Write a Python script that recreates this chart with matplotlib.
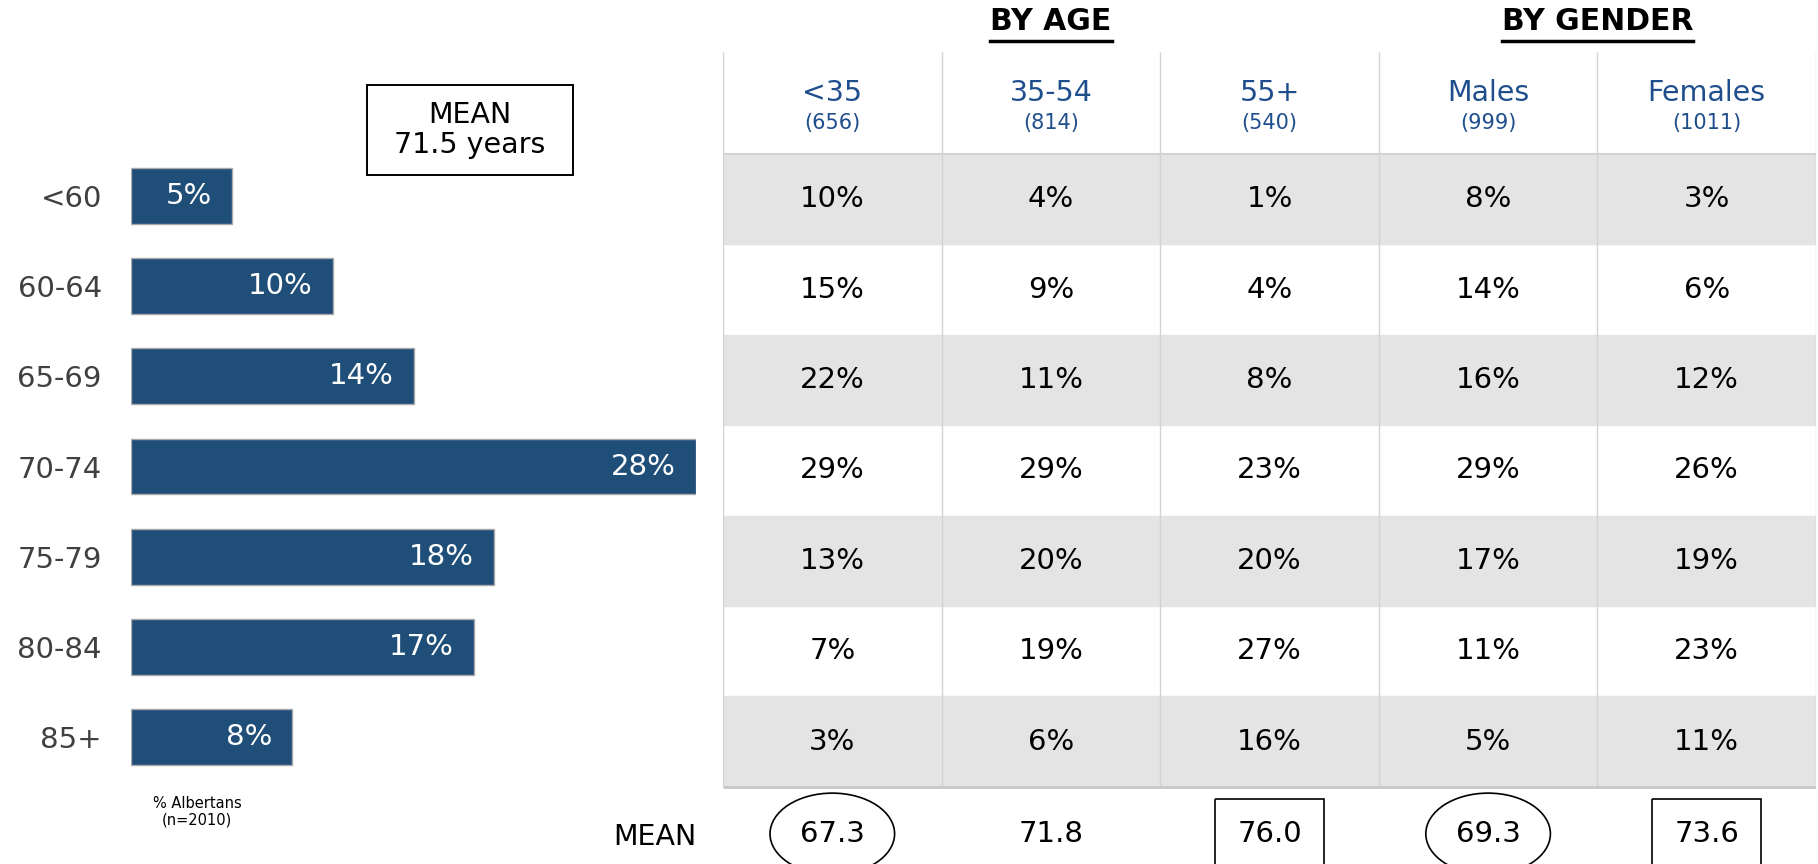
import matplotlib
matplotlib.use('Agg')
import matplotlib.pyplot as plt
from matplotlib.patches import Ellipse, Rectangle

# ---- data ----
age_groups = ['<60', '60-64', '65-69', '70-74', '75-79', '80-84', '85+']
overall_pct = [5, 10, 14, 28, 18, 17, 8]

columns = ['<35', '35-54', '55+', 'Males', 'Females']
column_n = ['(656)', '(814)', '(540)', '(999)', '(1011)']
table_pct = [
    [10, 4, 1, 8, 3],
    [15, 9, 4, 14, 6],
    [22, 11, 8, 16, 12],
    [29, 29, 23, 29, 26],
    [13, 20, 20, 17, 19],
    [7, 19, 27, 11, 23],
    [3, 6, 16, 5, 11],
]
column_means = [67.3, 71.8, 76.0, 69.3, 73.6]
mean_marks = ['circle', None, 'box', 'circle', 'box']
groups = [('BY AGE', 0, 3), ('BY GENDER', 3, 5)]
overall_mean = 71.5
sample_n = 2010

BAR_COLOR = '#1f4e79'
HEAD_COLOR = '#1f4e8c'
GRAY_ROW = '#e4e4e4'

plt.rcParams['font.family'] = ['DejaVu Sans']

W, H = 1818, 864
fig = plt.figure(figsize=(W / 100, H / 100), dpi=100)

# ---- left bar chart ----
ax = fig.add_axes([131 / W, (H - 782) / H, 565 / W, 631 / H])
ypos = range(len(age_groups))
ax.barh(ypos, overall_pct, height=0.62, color=BAR_COLOR, edgecolor='#a9a9a9', linewidth=1)
ax.set_xlim(0, 28)
ax.set_ylim(6.5, -0.5)
ax.set_yticks(list(ypos))
ax.set_yticklabels(age_groups, fontsize=21, color='#404040')
ax.tick_params(axis='y', length=0, pad=21)
ax.set_xticks([])
for s in ax.spines.values():
    s.set_visible(False)
for y, v in zip(ypos, overall_pct):
    ax.annotate(f'{v}%', (v, y), xytext=(-20, 0), textcoords='offset pixels',
                ha='right', va='center', color='white', fontsize=21)

# mean box
fig.add_artist(Rectangle((367 / W, 1 - 175 / H), 206 / W, 90 / H, transform=fig.transFigure,
                         fc='white', ec='black', lw=1.4))
fig.text(470 / W, 1 - 130 / H, f'MEAN\n{overall_mean} years', ha='center', va='center',
         fontsize=20.5, linespacing=1.1)
fig.text(197 / W, 1 - 812 / H, f'% Albertans\n(n={sample_n})', ha='center', va='center',
         fontsize=10.5, linespacing=1.1)

# ---- right table ----
row_h = 90.4
top_px = 52
head = 102 / row_h
tab = fig.add_axes([723 / W, 0, 1093 / W, (H - top_px) / H])
tab.set_xlim(0, 5)
tab.set_ylim((H - top_px) / row_h, 0)
tab.axis('off')

n_rows = len(table_pct)
for i in range(n_rows):
    if i % 2 == 0:
        tab.axhspan(head + i, head + i + 1, color=GRAY_ROW, zorder=0)
tab.vlines(range(len(columns) + 1), 0, head + n_rows, color='#d3d3d3', lw=1, zorder=1)
tab.hlines([head], 0, 5, color='#d3d3d3', lw=1.5, zorder=1)
tab.hlines([head + n_rows], 0, 5, color='#c8c8c8', lw=2, zorder=1)

for j, (c, n) in enumerate(zip(columns, column_n)):
    tab.text(j + 0.5, 0.45, c, ha='center', va='center', fontsize=20.5, color=HEAD_COLOR)
    tab.text(j + 0.5, 0.78, n, ha='center', va='center', fontsize=15, color=HEAD_COLOR)

for i, row in enumerate(table_pct):
    for j, v in enumerate(row):
        tab.text(j + 0.5, head + i + 0.5, f'{v}%', ha='center', va='center', fontsize=21)

mean_y = head + n_rows + 0.52
tab.text(-0.31, mean_y + 0.03, 'MEAN', ha='center', va='center', fontsize=20.5, clip_on=False)
for j, (m, mark) in enumerate(zip(column_means, mean_marks)):
    tab.text(j + 0.5, mean_y, f'{m:.1f}', ha='center', va='center', fontsize=21)
    if mark == 'circle':
        tab.add_patch(Ellipse((j + 0.5, mean_y), 0.57, 0.9, fc='none', ec='black', lw=1.2))
    elif mark == 'box':
        tab.add_patch(Rectangle((j + 0.25, mean_y - 0.38), 0.5, 1.0, fc='none', ec='black', lw=1.2))

# group headings, underlined
fig.canvas.draw()
renderer = fig.canvas.get_renderer()
for label, c0, c1 in groups:
    t = tab.text((c0 + c1) / 2, -0.34, label, ha='center', va='center', fontsize=21.5,
                 fontweight='bold', clip_on=False)
    bb = t.get_window_extent(renderer).transformed(tab.transData.inverted())
    tab.plot([bb.x0, bb.x1], [-0.12, -0.12], color='black', lw=2.5, clip_on=False)

fig.savefig('out.png', dpi=100)
